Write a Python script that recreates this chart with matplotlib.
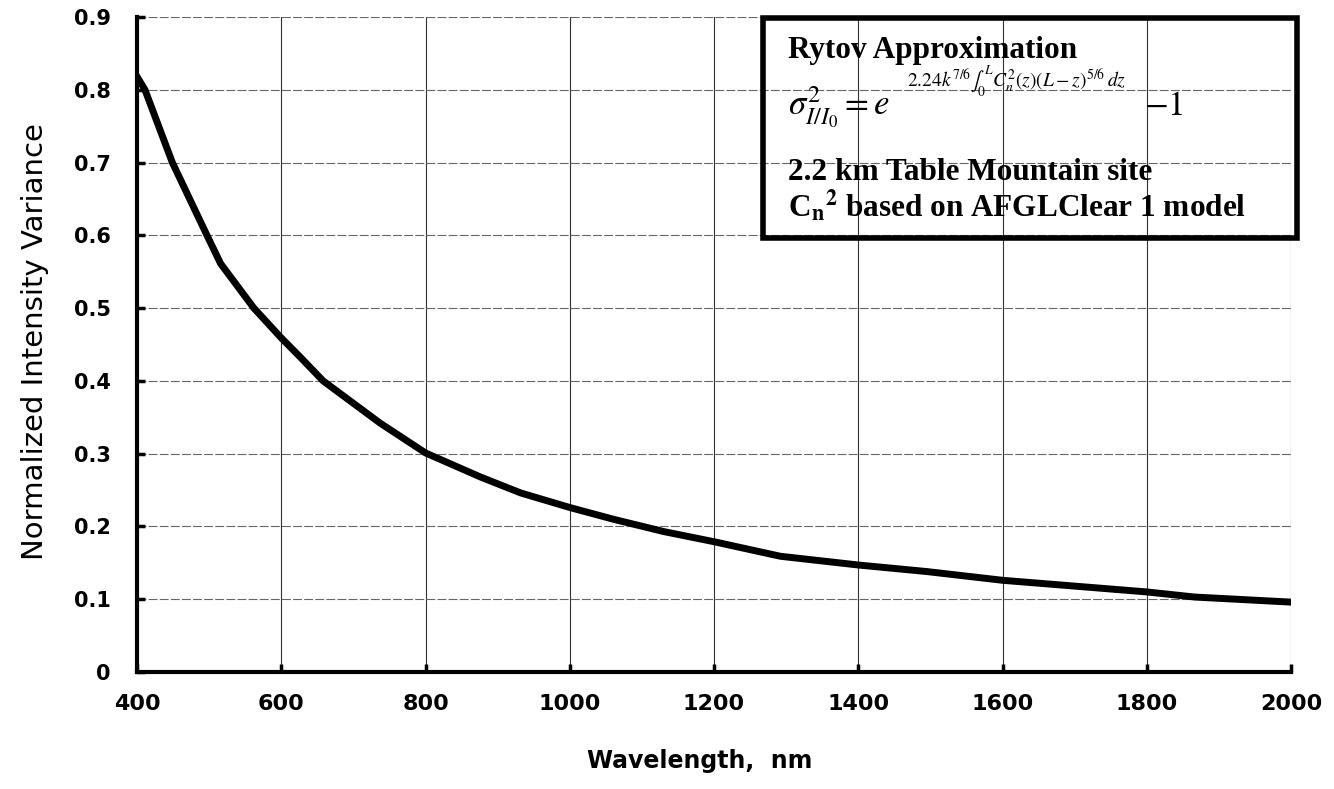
import matplotlib
matplotlib.use("Agg")
import matplotlib.pyplot as plt
from matplotlib.patches import Rectangle

# values
wavelength = [400, 411, 449, 497, 516, 562, 600, 626, 658, 737, 800, 876, 932, 1000,
              1060, 1130, 1200, 1292, 1400, 1495, 1600, 1700, 1800, 1866, 2000]
variance = [0.818, 0.800, 0.700, 0.600, 0.561, 0.500, 0.459, 0.433, 0.400, 0.342,
            0.301, 0.268, 0.246, 0.226, 0.210, 0.193, 0.179, 0.159, 0.147, 0.138,
            0.126, 0.118, 0.110, 0.103, 0.096]

xticks = [400, 600, 800, 1000, 1200, 1400, 1600, 1800, 2000]
yticks = [0, 0.1, 0.2, 0.3, 0.4, 0.5, 0.6, 0.7, 0.8, 0.9]
ytick_labels = ["0", "0.1", "0.2", "0.3", "0.4", "0.5", "0.6", "0.7", "0.8", "0.9"]

box_lines = ["Rytov Approximation",
             "2.2 km Table Mountain site",
             r"C$_{\mathbf{n}}$$^{\mathbf{2}}$ based on AFGLClear 1 model"]

plt.rcParams.update({
    "font.family": "DejaVu Sans",
    "mathtext.fontset": "stix",
})

fig = plt.figure(figsize=(13.34, 7.89), dpi=100)
ax = fig.add_axes([0.1027, 0.1483, 0.8651, 0.8302])

ax.plot(wavelength, variance, color="black", linewidth=5, solid_joinstyle="round", zorder=3)

ax.set_xlim(400, 2000)
ax.set_ylim(0, 0.9)
ax.set_xticks(xticks)
ax.set_xticklabels([str(t) for t in xticks], fontsize=16, fontweight="bold")
ax.set_yticks(yticks)
ax.set_yticklabels(ytick_labels, fontsize=15, fontweight="bold")

ax.tick_params(axis="x", direction="in", length=6, width=2.5, pad=16)
ax.tick_params(axis="y", direction="in", length=6, width=2.5, pad=19)

# mesh
ax.grid(True, axis="y", color="#666666", linewidth=0.8, linestyle=(0, (8, 2)))
ax.grid(True, axis="x", color="#333333", linewidth=0.8)
ax.set_axisbelow(True)

for side in ["top", "right"]:
    ax.spines[side].set_visible(False)
for side in ["left", "bottom"]:
    ax.spines[side].set_linewidth(3)
    ax.spines[side].set_zorder(4)

ax.set_xlabel("Wavelength,  nm", fontsize=17, fontweight="bold")
ax.xaxis.set_label_coords(0.488, -0.136)
ax.xaxis.label.set_va("center")
ax.set_ylabel("Normalized Intensity Variance", fontsize=21)
ax.yaxis.set_label_coords(-0.088, 0.504)
ax.yaxis.label.set_va("center")

# annotation box
ax.add_patch(Rectangle((0.5425, 0.6626), 0.4627, 0.3359, transform=ax.transAxes,
                       facecolor="none", edgecolor="black", linewidth=4,
                       clip_on=False, zorder=5))

serif = dict(family="Liberation Serif", fontweight="bold", fontsize=22.5,
             transform=ax.transAxes, va="baseline", ha="left", zorder=6)
ax.text(0.564, 0.9374, box_lines[0], **serif)
ax.text(0.564, 0.7510, box_lines[1], **serif)
ax.text(0.564, 0.6960, box_lines[2], **serif)

ax.text(0.5645, 0.850, r"$\sigma^{2}_{I/I_0} = e$", fontsize=25,
        transform=ax.transAxes, va="baseline", ha="left", zorder=6)
ax.text(0.667, 0.893, r"$2.24k^{7/6}\int_0^L C_n^2(z)(L-z)^{5/6}\,dz$", fontsize=14,
        transform=ax.transAxes, va="baseline", ha="left", zorder=6)
ax.text(0.873, 0.850, r"$-1$", fontsize=25,
        transform=ax.transAxes, va="baseline", ha="left", zorder=6)

plt.savefig("out.png", dpi=100)
plt.close()
